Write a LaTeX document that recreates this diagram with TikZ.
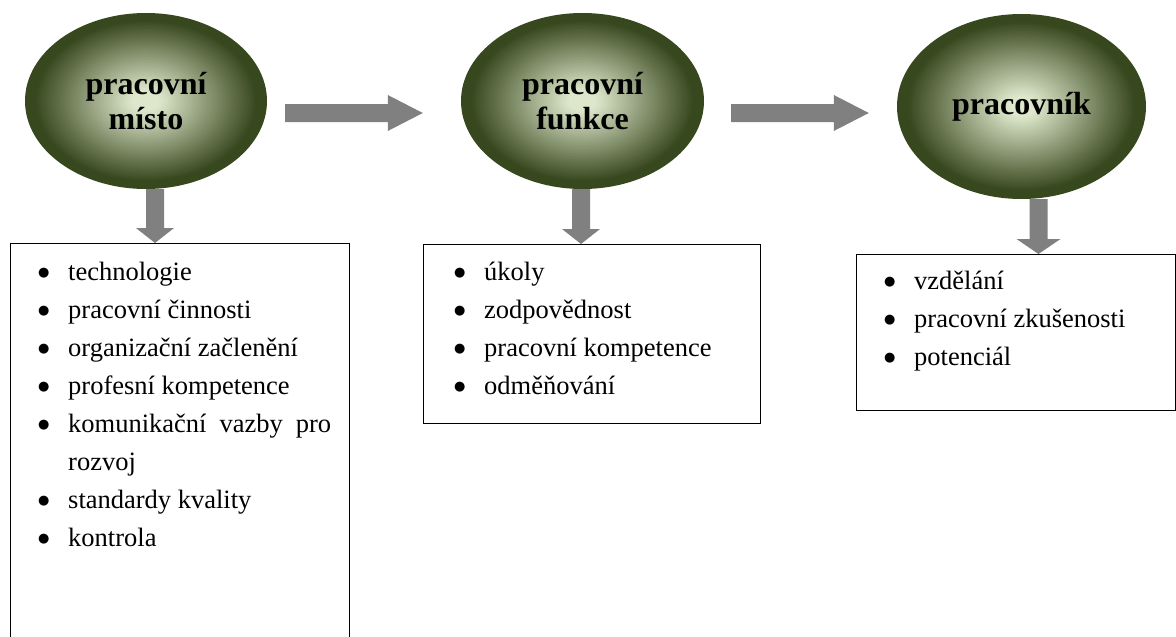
\documentclass[tikz,border=0pt]{standalone}
\usepackage{fontspec}
\setmainfont{Liberation Serif}
\newfontfamily\bulletfont{DejaVu Sans}
\usetikzlibrary{shapes.geometric,calc}
\definecolor{ellin}{RGB}{222,231,203}
\definecolor{ellout}{RGB}{56,72,30}
\definecolor{arrgray}{RGB}{128,128,128}
\pgfdeclarelayer{bg}
\pgfsetlayers{bg,main}
\newcommand\fl{\rule{0pt}{20pt}}
\newcommand\blt{\makebox[29pt][l]{\hspace*{-1pt}\raisebox{3.5pt}{\bulletfont\fontsize{13}{13}\selectfont ●}}}
% radial shading of an ellipse: center, x radius, y radius
\newcommand\ellshade[3]{%
  \foreach \k in {0,...,59}{%
    \pgfmathsetmacro\tt{1-\k/60}%
    \pgfmathsetmacro\pp{max(0,min(100,(0.92-\tt)/0.80*100))}%
    \fill[ellin!\pp!ellout] (#1) ellipse [x radius=\tt*#2, y radius=\tt*#3];
  }}
% horizontal block arrow: start, tip, shaft half width, head half width, head length
\newcommand\blkH[5]{%
  \fill[arrgray] ($(#1)+(0,-#3)$) -- ($(#2)+(-#5,-#3)$) -- ($(#2)+(-#5,-#4)$) -- (#2)
    -- ($(#2)+(-#5,#4)$) -- ($(#2)+(-#5,#3)$) -- ($(#1)+(0,#3)$) -- cycle;}
% vertical (downward) block arrow
\newcommand\blkV[5]{%
  \fill[arrgray] ($(#1)+(-#3,0)$) -- ($(#2)+(-#3,-#5)$) -- ($(#2)+(-#4,-#5)$) -- (#2)
    -- ($(#2)+(#4,-#5)$) -- ($(#2)+(#3,-#5)$) -- ($(#1)+(#3,0)$) -- cycle;}
\tikzset{
  ell/.style={ellipse, inner sep=0pt, align=center,
    font=\fontsize{32}{35}\selectfont\bfseries},
  listbox/.style={draw, line width=1.3pt, rectangle, anchor=north west, inner sep=0pt},
  listtext/.style={anchor=north west, inner sep=0pt, align=left,
    font=\fontsize{26.5}{38}\selectfont}
}
\begin{document}
\begin{tikzpicture}[x=1pt,y=-1pt]
\useasboundingbox (0,0) rectangle (1176,637);
\clip (0,0) rectangle (1176,637);

\node[ell, minimum width=242pt, minimum height=176pt] (e1) at (146,101) {pracovní\\místo};
\node[ell, minimum width=243pt, minimum height=176pt] (e2) at (582.5,101) {pracovní\\funkce};
\node[ell, minimum width=249pt, minimum height=185pt] (e3) at (1021.5,106.5) {pracovník};

\begin{pgfonlayer}{bg}
\ellshade{e1.center}{121}{88}
\ellshade{e2.center}{121.5}{88}
\ellshade{e3.center}{124.5}{92.5}
\end{pgfonlayer}

\node[listbox, minimum width=339pt, minimum height=420pt] (b1) at (10,243) {};
\node[listbox, minimum width=337pt, minimum height=179pt] (b2) at (423,244) {};
\node[listbox, minimum width=319pt, minimum height=156pt] (b3) at (856,254) {};

\node[listtext] (l1) at ([shift={(29,17)}]b1.north west) {\fl\blt technologie\\
\blt pracovní činnosti\\
\blt organizační začlenění\\
\blt profesní kompetence\\
\blt \makebox[263pt][s]{komunikační vazby pro}\\
\makebox[29pt]{}rozvoj\\
\blt standardy kvality\\
\blt kontrola};

\node[listtext] (l2) at ([shift={(32,16)}]b2.north west) {\fl\blt úkoly\\
\blt zodpovědnost\\
\blt pracovní kompetence\\
\blt odměňování};

\node[listtext] (l3) at ([shift={(29,15)}]b3.north west) {\fl\blt vzdělání\\
\blt pracovní zkušenosti\\
\blt potenciál};

\coordinate (h1s) at ($(e1.east)+(18,12)$);
\coordinate (h1t) at ($(h1s -| e2.west)+(-38,0)$);
\coordinate (h2s) at ($(e2.east)+(27,12)$);
\coordinate (h2t) at ($(h2s -| e3.west)+(-28,0)$);
\coordinate (v1s) at ($(e1.south)+(9,0)$);
\coordinate (v1t) at (v1s |- b1.north);
\coordinate (v2s) at ($(e2.south)+(-1.5,0)$);
\coordinate (v2t) at (v2s |- b2.north);
\coordinate (v3s) at ($(e3.south)+(17,0)$);
\coordinate (v3t) at (v3s |- b3.north);

\blkH{h1s}{h1t}{9}{18}{35}
\blkH{h2s}{h2t}{9}{18}{35}
\blkV{v1s}{v1t}{9}{19}{15}
\blkV{v2s}{v2t}{9}{19}{15}
\blkV{v3s}{v3t}{9}{22}{15}
\end{tikzpicture}
\end{document}
